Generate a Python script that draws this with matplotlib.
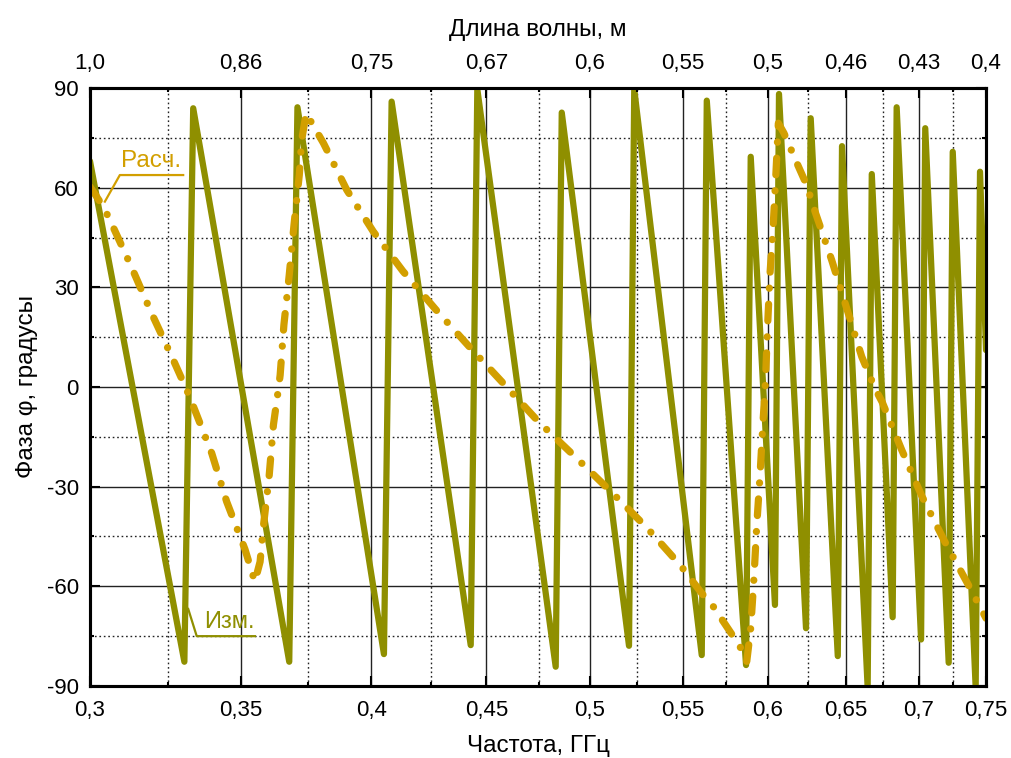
import matplotlib.pyplot as plt
from matplotlib.ticker import NullFormatter

plt.rcParams['font.family'] = ['Liberation Sans', 'DejaVu Sans']
plt.rcParams['axes.unicode_minus'] = False
plt.rcParams['lines.scale_dashes'] = False

# axis ticks: frequency (bottom, log scale) and matching wavelength (top)
freq_ticks = [0.3, 0.35, 0.4, 0.45, 0.5, 0.55, 0.6, 0.65, 0.7, 0.75]
freq_labels = ['0,3', '0,35', '0,4', '0,45', '0,5', '0,55', '0,6', '0,65', '0,7', '0,75']
wave_labels = ['1,0', '0,86', '0,75', '0,67', '0,6', '0,55', '0,5', '0,46', '0,43', '0,4']
freq_minor = [0.325, 0.375, 0.425, 0.475, 0.525, 0.575, 0.625, 0.675, 0.725]
phase_ticks = [-90, -60, -30, 0, 30, 60, 90]
phase_minor = [-75, -45, -15, 15, 45, 75]

# measured phase (GHz, degrees)
meas_f = [0.300, 0.3304, 0.3334, 0.3678, 0.3709, 0.4052, 0.4084, 0.4428, 0.4458,
          0.4830, 0.4860, 0.5206, 0.5234, 0.5608, 0.5637, 0.5868, 0.5896, 0.6044,
          0.6069, 0.6239, 0.6269, 0.6445, 0.6473, 0.6645, 0.6673, 0.6817, 0.6845,
          0.7018, 0.7048, 0.7219, 0.7249, 0.7421, 0.7454, 0.750]
meas_phi = [68, -82.7, 83.9, -82.7, 84.2, -80.4, 85.9, -77.7, 89.6,
            -84.2, 82.6, -77.9, 89.6, -80.7, 86.2, -83.7, 69.3, -65.6,
            88.2, -72.6, 80.9, -81.0, 72.5, -90.5, 64.1, -69.3, 84.2,
            -76.0, 77.9, -83.0, 70.8, -90.5, 64.8, 11.1]

# calculated phase
calc_f = [0.300, 0.3041, 0.3064, 0.3131, 0.3195, 0.3267, 0.3312, 0.3334, 0.3398,
          0.3450, 0.3515, 0.3551, 0.3570, 0.3582, 0.3603, 0.3619, 0.3637, 0.3644,
          0.3658, 0.3678, 0.3696, 0.3716, 0.3725, 0.3742, 0.3809, 0.3901, 0.4008,
          0.4131, 0.4274, 0.4422, 0.4581, 0.4745, 0.4927, 0.5111, 0.5301, 0.5489,
          0.5608, 0.5671, 0.5792, 0.5838, 0.5872, 0.5896, 0.5916, 0.5932, 0.5952,
          0.5969, 0.5983, 0.5987, 0.5999, 0.6013, 0.6034, 0.6050, 0.6065, 0.6100,
          0.6184, 0.6243, 0.6297, 0.6405, 0.6504, 0.6605, 0.6695, 0.6746, 0.6881,
          0.7023, 0.7187, 0.7366, 0.750]
calc_phi = [60.3, 54.3, 49.8, 35.9, 22.2, 8.1, -0.9, -5.7, -20.0,
            -34.5, -48.8, -58.6, -52.6, -42.0, -27.0, -11.4, -0.9, 3.6,
            18.7, 33.7, 48.8, 63.8, 74.3, 82.4, 73.4, 59.3, 46.8,
            34.9, 23.2, 12.1, 0.9, -10.4, -21.0, -31.5, -42.3, -53.8,
            -62.1, -65.8, -75.1, -78.7, -82.7, -72.6, -57.1, -42.0, -27.0,
            -11.7, -0.9, 3.6, 18.7, 33.7, 49.3, 64.3, 79.4, 76.4,
            67.1, 60.8, 52.8, 38.2, 23.7, 9.1, -0.4, -4.7, -19.0,
            -32.8, -46.3, -59.6, -69.6]

meas_color = '#8F8F00'
calc_color = '#D29F00'

fig = plt.figure(figsize=(10.11, 7.58), dpi=100)
ax = fig.add_axes([0.0890, 0.0950, 0.8863, 0.7889])
ax.set_xscale('log')
ax.set_xlim(0.3, 0.75)
ax.set_ylim(-90, 90)

ax.set_xticks(freq_ticks)
ax.set_xticklabels(freq_labels)
ax.set_xticks(freq_minor, minor=True)
ax.xaxis.set_minor_formatter(NullFormatter())
ax.set_yticks(phase_ticks)
ax.set_yticks(phase_minor, minor=True)

ax.grid(which='major', color='#222222', lw=1.0, ls='-')
ax.grid(which='minor', color='#222222', lw=1.0, ls=(0, (1.2, 2.0)))
ax.set_axisbelow(True)

ax.tick_params(which='both', direction='in', labelsize=16, right=True, top=False,
               width=1.5)
ax.tick_params(which='major', length=7)
ax.tick_params(which='minor', length=3)
ax.tick_params(axis='x', pad=10)
ax.tick_params(axis='y', pad=8)

# top axis with wavelength labels
ax2 = ax.twiny()
ax2.set_xscale('log')
ax2.set_xlim(ax.get_xlim())
ax2.set_xticks(freq_ticks)
ax2.set_xticklabels(wave_labels)
ax2.set_xticks(freq_minor, minor=True)
ax2.xaxis.set_minor_formatter(NullFormatter())
ax2.tick_params(which='both', direction='in', labelsize=16, width=1.5, pad=10)
ax2.tick_params(which='major', length=7)
ax2.tick_params(which='minor', length=3)

for a in (ax, ax2):
    for s in a.spines.values():
        s.set_linewidth(2.2)

ax.plot(meas_f, meas_phi, color=meas_color, lw=4.5, solid_joinstyle='round',
        solid_capstyle='round', zorder=3)
ax.plot(calc_f, calc_phi, color=calc_color, lw=5.2, dash_capstyle='round',
        dash_joinstyle='round', dashes=(12, 11.5, 0.1, 11.5), zorder=4)

# labels with leader lines
ax.plot([0.3046, 0.3093, 0.3300], [55.8, 63.8, 63.8], color=calc_color, lw=1.6, zorder=5)
ax.text(0.3098, 66.3, 'Расч.', color=calc_color, fontsize=17.5, ha='left', va='baseline')
ax.plot([0.3317, 0.3346, 0.3551], [-66.8, -75.0, -75.0], color=meas_color, lw=1.6, zorder=5)
ax.text(0.3372, -72.6, 'Изм.', color=meas_color, fontsize=17, ha='left', va='baseline')

ax.set_xlabel('Частота, ГГц', fontsize=17.5, labelpad=10)
ax.set_ylabel('Фаза φ, градусы', fontsize=17.5, labelpad=6)
ax2.set_xlabel('Длина волны, м', fontsize=17.5, labelpad=12)

fig.savefig('out.png', dpi=100)
